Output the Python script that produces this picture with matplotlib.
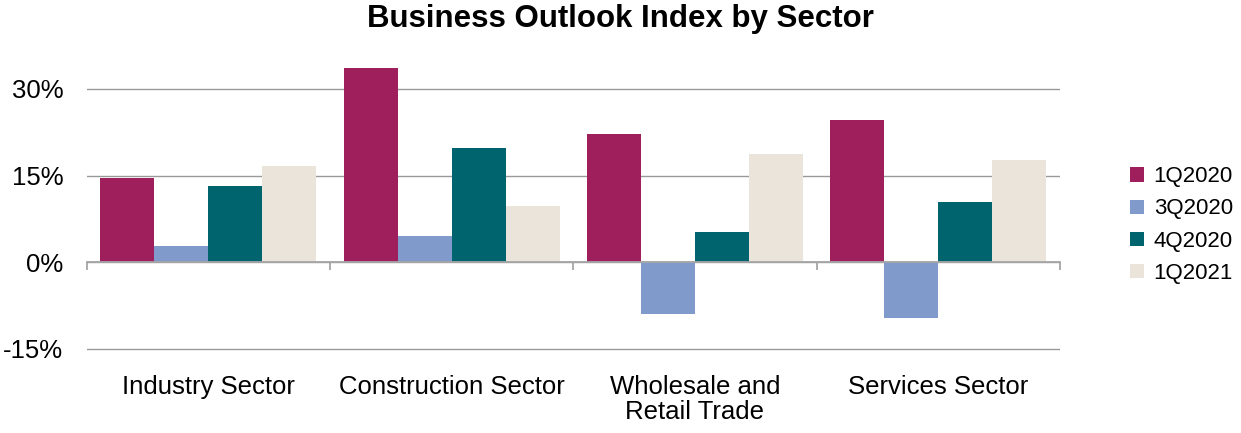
import matplotlib
matplotlib.use("Agg")
import matplotlib.pyplot as plt
import matplotlib.transforms as mtransforms
from matplotlib.ticker import FuncFormatter, FixedLocator
import numpy as np

plt.rcParams['font.family'] = ['Liberation Sans', 'DejaVu Sans']

title = "Business Outlook Index by Sector"
categories = ["Industry Sector", "Construction Sector", "Wholesale and\nRetail Trade", "Services Sector"]
series_names = ["1Q2020", "3Q2020", "4Q2020", "1Q2021"]
q1_2020 = [14.6, 33.6, 22.2, 24.6]
q3_2020 = [2.8, 4.5, -8.9, -9.6]
q4_2020 = [13.2, 19.8, 5.2, 10.4]
q1_2021 = [16.7, 9.7, 18.7, 17.7]
yticks = [-15, 0, 15, 30]
colors = ["#9E1F5C", "#7F9ACB", "#00646E", "#EAE4DA"]

series = [q1_2020, q3_2020, q4_2020, q1_2021]

fig = plt.figure(figsize=(12.41, 4.33), dpi=100)
ax = fig.add_axes([0.0699, 0.190, 0.7841, 0.6945])

n = len(series)
group = 4 / 4.5
w = group / n
x = np.arange(len(categories))
for i, (vals, name, c) in enumerate(zip(series, series_names, colors)):
    ax.bar(x - group / 2 + w * (i + 0.5), vals, width=w, color=c, label=name, zorder=1)

ax.set_xlim(-0.5, len(categories) - 0.5)
ax.set_ylim(-15.3, 36.7)
ax.set_axisbelow(True)
ax.yaxis.set_major_locator(FixedLocator(yticks))
ax.yaxis.set_major_formatter(FuncFormatter(lambda v, p: f"{v:.0f}%"))
ax.grid(axis='y', color='#999999', linewidth=1.0)
ax.tick_params(axis='y', length=0, pad=17, labelsize=18.5, colors='#000000')

for s in ['left', 'right', 'top']:
    ax.spines[s].set_visible(False)
ax.spines['bottom'].set_position(('data', 0))
ax.spines['bottom'].set_color('#a6a6a6')
ax.spines['bottom'].set_linewidth(1.3)
ax.spines['bottom'].set_zorder(3)

ax.set_xticks(x)
ax.set_xticklabels([])
ax.tick_params(axis='x', which='major', length=0)
ax.set_xticks(np.arange(-0.5, len(categories)), minor=True)
ax.tick_params(axis='x', which='minor', length=5.5, width=1.3, color='#a6a6a6', direction='out')

trans = mtransforms.blended_transform_factory(ax.transData, ax.transAxes)
for xi, cat in zip(x, categories):
    ax.text(xi, -0.082, cat, transform=trans, ha='center', va='top', fontsize=18.5,
            linespacing=1.05)

ax.legend(loc='center left', bbox_to_anchor=(1.052, 0.418), frameon=False, fontsize=16,
          handlelength=0.6, handleheight=0.6, handletextpad=0.45, labelspacing=0.5)

fig.text(0.5, 1 - 27 / 433, title, ha='center', va='baseline', fontsize=22.5, fontweight='bold')

fig.savefig("out.png", dpi=100)
